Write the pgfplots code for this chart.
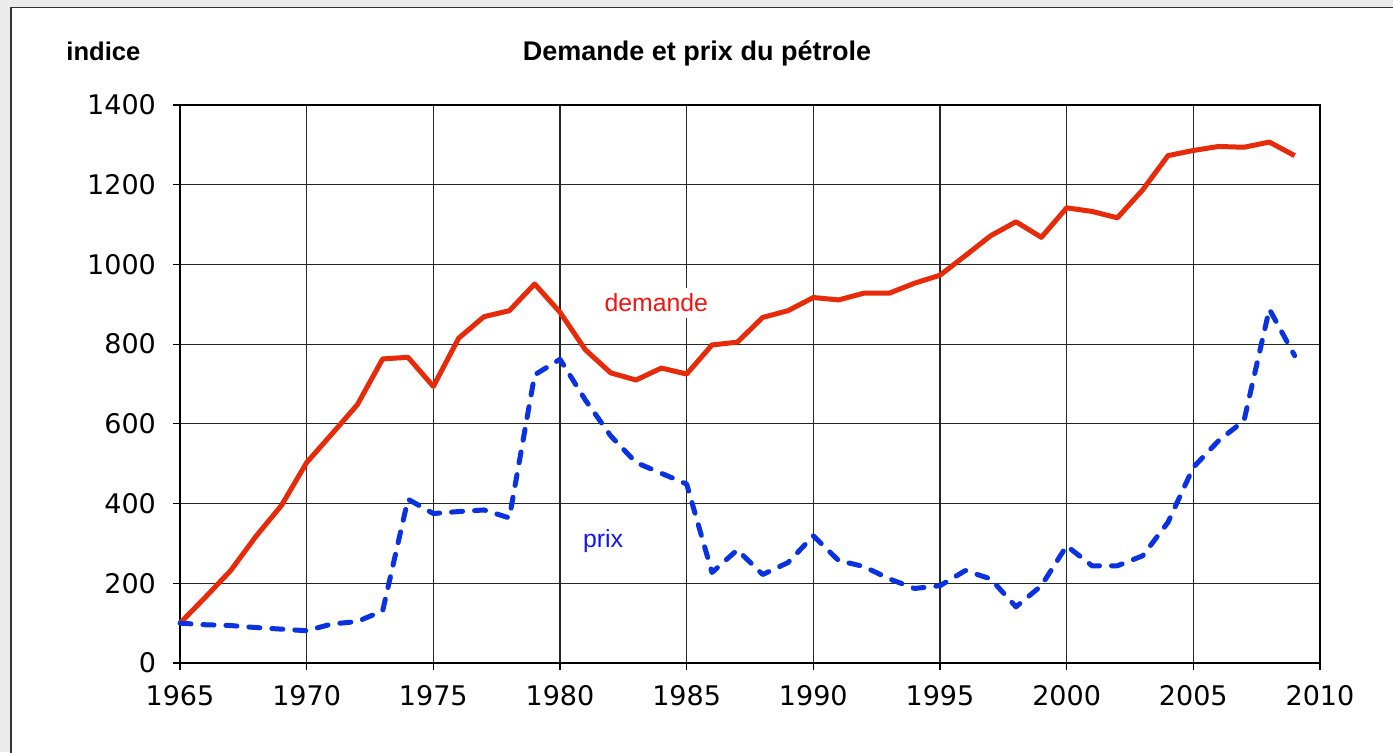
\documentclass[border=0pt]{standalone}
\usepackage{pgfplots}
\pgfplotsset{compat=1.18}
\usepackage{fontspec}
\setmainfont{Liberation Sans}
\newfontfamily\dejavu{DejaVu Sans}
\definecolor{bggray}{HTML}{EBEBEB}
\definecolor{demred}{RGB}{230,42,10}
\definecolor{prixblue}{RGB}{10,50,225}
\definecolor{txtred}{RGB}{240,20,20}
\definecolor{txtblue}{RGB}{20,20,235}

% 1 px of the reference = 0.5pt, origin at top left
\begin{document}
\begin{tikzpicture}
\clip (0,0) rectangle (696.5pt,-376pt);
\fill[bggray] (0,0) rectangle (696.5pt,-376pt);
\draw[fill=white, draw=black!80, line width=0.6pt] (5.5pt,-3.6pt) rectangle (720pt,-400pt);

\node[anchor=base, font=\bfseries\fontsize{12.8}{15}\selectfont] at (51.7pt,-30pt) {indice};
\node[anchor=base, font=\bfseries\fontsize{13.5}{16}\selectfont] at (348.5pt,-30pt) {Demande et prix du pétrole};

\begin{axis}[
  at={(90pt,-331.5pt)}, anchor=south west,
  scale only axis,
  width=570pt, height=279pt,
  xmin=1965, xmax=2010, ymin=0, ymax=1400,
  xtick={1965,1970,...,2010},
  ytick={0,200,...,1400},
  grid=major,
  major grid style={line width=0.6pt, draw=black!85},
  axis line style={line width=1.3pt, black},
  tick align=outside,
  major tick length=3.5pt,
  tick style={line width=0.6pt, black},
  xtick pos=bottom, ytick pos=left,
  /pgf/number format/1000 sep={},
  /pgf/number format/assume math mode=true,
  tick label style={font=\dejavu\fontsize{13.5}{16}\selectfont},
  yticklabel style={xshift=-5pt},
  xticklabel style={yshift=-4pt},
  clip=false,
]
\addplot[color=demred, line width=2.5pt, line join=round] coordinates {
  (1965,100) (1966,165) (1967,232) (1968,318) (1969,395)
  (1970,503) (1971,575) (1972,648) (1973,763) (1974,767)
  (1975,694) (1976,815) (1977,869) (1978,884) (1979,951)
  (1980,880) (1981,786) (1982,728) (1983,710) (1984,740)
  (1985,725) (1986,798) (1987,805) (1988,867) (1989,884)
  (1990,917) (1991,911) (1992,928) (1993,928) (1994,953)
  (1995,973) (1996,1022) (1997,1072) (1998,1107) (1999,1068)
  (2000,1142) (2001,1133) (2002,1117) (2003,1187) (2004,1273)
  (2005,1286) (2006,1296) (2007,1294) (2008,1307) (2009,1273)
};
\addplot[color=prixblue, line width=2.5pt, line cap=round, line join=round,
  dash pattern=on 5.5pt off 6pt] coordinates {
  (1965,100) (1966,96) (1967,94) (1968,89) (1969,85)
  (1970,81) (1971,98) (1972,104) (1973,131) (1974,411)
  (1975,375) (1976,380) (1977,384) (1978,364) (1979,723)
  (1980,762) (1981,660) (1982,570) (1983,503) (1984,476)
  (1985,449) (1986,227) (1987,284) (1988,222) (1989,252)
  (1990,319) (1991,257) (1992,242) (1993,211) (1994,187)
  (1995,194) (1996,232) (1997,211) (1998,141) (1999,194)
  (2000,294) (2001,244) (2002,244) (2003,269) (2004,353)
  (2005,491) (2006,558) (2007,608) (2008,888) (2009,771)
};
\node[fill=white, inner sep=3pt, text=txtred, font=\fontsize{12.4}{15}\selectfont]
  at (axis cs:1983.8,904) {demande};
\node[text=txtblue, font=\fontsize{12.4}{15}\selectfont]
  at (axis cs:1981.7,307) {prix};
\end{axis}
\end{tikzpicture}
\end{document}
